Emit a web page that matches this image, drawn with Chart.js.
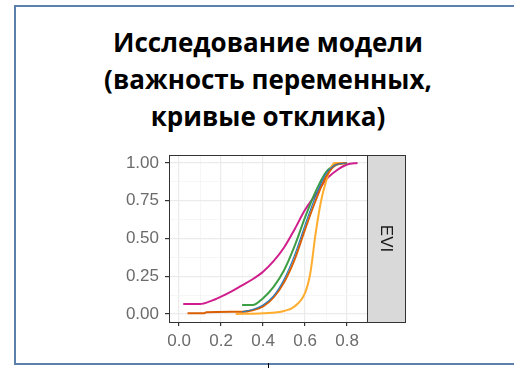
<!DOCTYPE html>
<html>
<head>
<meta charset="utf-8">
<script src="https://cdn.jsdelivr.net/npm/chart.js@4"></script>
<style>
  html, body { margin: 0; padding: 0; background: #fff; }
  #wrap { position: relative; width: 514px; height: 368px; overflow: hidden; }
  #frame { position: absolute; left: 14px; top: 5px; width: 520px; height: 356px;
           border: 2px solid #5b80ab; box-sizing: content-box; }
  #title { position: absolute; left: 14px; top: 24px; width: 508px; text-align: center;
           font-family: "Open Sans", sans-serif; font-weight: bold; font-size: 26px;
           line-height: 37px; color: #000; }
  #mark { position: absolute; left: 268px; top: 363px; width: 1px; height: 5px; background: #000; }
  canvas { position: absolute; left: 0; top: 0; }
</style>
</head>
<body>
<div id="wrap">
  <div id="frame"></div>
  <div id="title">Исследование модели<br>(важность переменных,<br>кривые отклика)</div>
  <canvas id="chart" width="514" height="368"></canvas>
  <div id="mark"></div>
</div>
<script>
// response curves
const magentaX = [0.02, 0.1, 0.15, 0.2, 0.25, 0.3, 0.35, 0.4, 0.45, 0.5, 0.55, 0.6, 0.65, 0.7, 0.75, 0.8, 0.85];
const magentaY = [0.066, 0.066, 0.085, 0.115, 0.15, 0.19, 0.23, 0.28, 0.35, 0.44, 0.56, 0.69, 0.79, 0.89, 0.95, 0.99, 1.0];

const greenX = [0.3, 0.35, 0.4, 0.45, 0.5, 0.55, 0.6, 0.65, 0.7, 0.75, 0.8];
const greenY = [0.06, 0.06, 0.105, 0.18, 0.29, 0.45, 0.64, 0.81, 0.94, 0.99, 1.0];

const blueX = [0.3, 0.35, 0.4, 0.45, 0.5, 0.55, 0.6, 0.65, 0.7, 0.75, 0.8];
const blueY = [0.015, 0.03, 0.06, 0.12, 0.23, 0.39, 0.59, 0.78, 0.93, 0.99, 1.0];

const darkOrangeX = [0.04, 0.12, 0.13, 0.3, 0.35, 0.4, 0.45, 0.5, 0.55, 0.6, 0.65, 0.7, 0.75, 0.8];
const darkOrangeY = [0.005, 0.005, 0.012, 0.015, 0.025, 0.05, 0.11, 0.21, 0.36, 0.56, 0.75, 0.91, 0.99, 1.0];

const lightOrangeX = [0.27, 0.4, 0.5, 0.55, 0.6, 0.625, 0.65, 0.675, 0.7, 0.72, 0.74, 0.8];
const lightOrangeY = [0.0, 0.005, 0.02, 0.05, 0.14, 0.27, 0.53, 0.74, 0.88, 0.96, 1.0, 1.0];

const xMajor = [0, 0.2, 0.4, 0.6, 0.8];
const xMinor = [0.1, 0.3, 0.5, 0.7];
const yMajor = [0, 0.25, 0.5, 0.75, 1];
const yMinor = [0.125, 0.375, 0.625, 0.875];
const stripLabel = 'EVI';

function pts(xs, ys) {
  return xs.map((x, i) => ({ x: x, y: ys[i] }));
}

function line(xs, ys, color, width) {
  return {
    data: pts(xs, ys),
    borderColor: color,
    borderWidth: width,
    pointRadius: 0,
    showLine: true,
    fill: false,
    cubicInterpolationMode: 'monotone'
  };
}

function setTicks(major, minor) {
  return function (scale) {
    scale.ticks = major.concat(minor).sort((a, b) => a - b)
      .map(v => ({ value: v, major: major.includes(v) }));
  };
}

function gridOpts() {
  return {
    color: ctx => ctx.tick && ctx.tick.major ? '#ebebeb' : '#f4f4f4',
    lineWidth: ctx => ctx.tick && ctx.tick.major ? 1.2 : 0.8,
    tickColor: ctx => ctx.tick && ctx.tick.major ? '#333333' : 'rgba(0,0,0,0)',
    tickLength: 4,
    drawOnChartArea: true
  };
}

// panel border and facet strip
const panelPlugin = {
  id: 'panel',
  afterDraw(chart) {
    const a = chart.chartArea;
    const c = chart.ctx;
    c.save();
    c.fillStyle = '#d9d9d9';
    c.fillRect(a.right, a.top, 38, a.bottom - a.top);
    c.strokeStyle = '#333333';
    c.lineWidth = 1;
    c.strokeRect(a.left + 0.5, a.top + 0.5, a.right - a.left, a.bottom - a.top);
    c.strokeRect(a.right + 0.5, a.top + 0.5, 38, a.bottom - a.top);
    c.translate(a.right + 19, (a.top + a.bottom) / 2);
    c.rotate(Math.PI / 2);
    c.fillStyle = '#1a1a1a';
    c.font = '17px "Liberation Sans", Arial, sans-serif';
    c.textAlign = 'center';
    c.textBaseline = 'middle';
    c.fillText(stripLabel, 0, 0);
    c.restore();
  }
};

new Chart(document.getElementById('chart'), {
  type: 'scatter',
  data: {
    datasets: [
      line(blueX, blueY, '#2b7bba', 1.2),
      line(darkOrangeX, darkOrangeY, '#d95f02', 2),
      line(lightOrangeX, lightOrangeY, '#ffad2e', 2),
      line(greenX, greenY, '#3d9e45', 2),
      line(magentaX, magentaY, '#d01f8c', 2)
    ]
  },
  options: {
    responsive: false,
    animation: false,
    events: [],
    layout: { padding: { left: 117, right: 147, top: 155, bottom: 20 } },
    plugins: { legend: { display: false }, tooltip: { enabled: false } },
    scales: {
      x: {
        type: 'linear',
        min: -0.048,
        max: 0.895,
        afterBuildTicks: setTicks(xMajor, xMinor),
        afterFit: s => { s.height = 26; },
        grid: gridOpts(),
        border: { display: false },
        ticks: {
          autoSkip: false,
          maxRotation: 0,
          padding: 5,
          color: '#6b6b6b',
          font: { family: '"Liberation Sans", Arial, sans-serif', size: 17 },
          callback: v => xMajor.includes(v) ? v.toFixed(1) : ''
        }
      },
      y: {
        type: 'linear',
        min: -0.053,
        max: 1.053,
        afterBuildTicks: setTicks(yMajor, yMinor),
        afterFit: s => { s.width = 52; },
        grid: gridOpts(),
        border: { display: false },
        ticks: {
          autoSkip: false,
          padding: 6,
          color: '#6b6b6b',
          font: { family: '"Liberation Sans", Arial, sans-serif', size: 17 },
          callback: v => yMajor.includes(v) ? v.toFixed(2) : ''
        }
      }
    }
  },
  plugins: [panelPlugin]
});
</script>
</body>
</html>
